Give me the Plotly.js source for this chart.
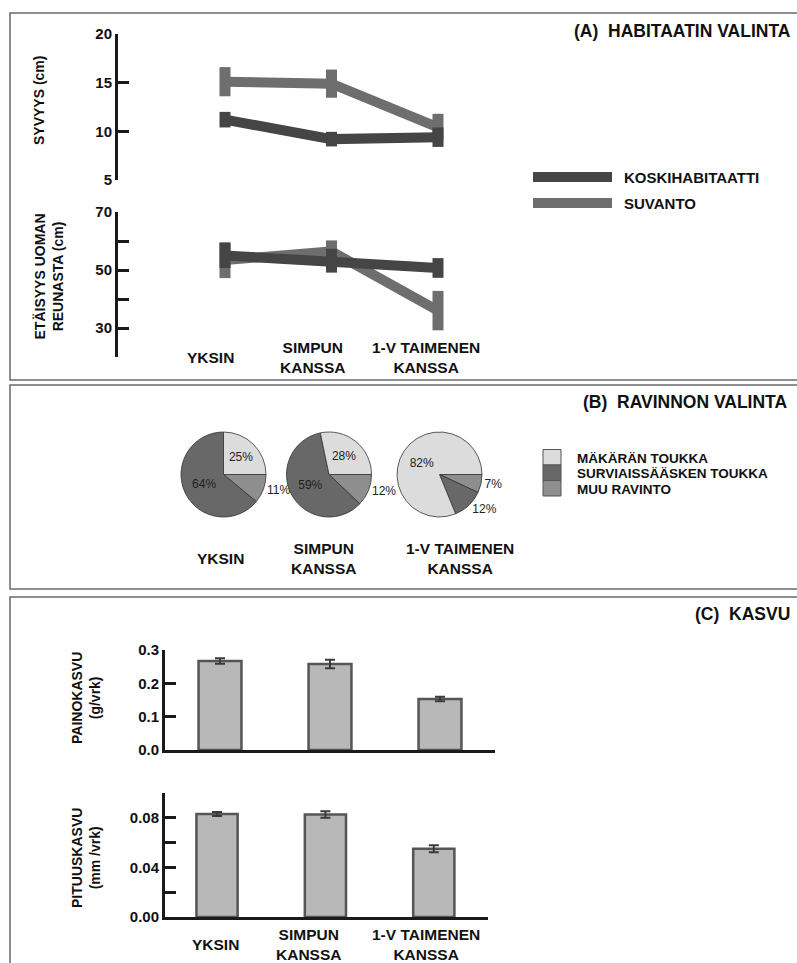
<!DOCTYPE html>
<html>
<head>
<meta charset="utf-8">
<script src="https://cdn.plot.ly/plotly-3.0.1.min.js"></script>
<style>html,body{margin:0;padding:0;background:#fff;}#chart{width:797px;height:963px;}</style>
</head>
<body>
<div id="chart"></div>
<script>
// ---------- data ----------
const categories = ['YKSIN', 'SIMPUN KANSSA', '1-V TAIMENEN KANSSA'];
const categoryLabels = ['YKSIN', 'SIMPUN<br>KANSSA', '1-V TAIMENEN<br>KANSSA'];
const habitatSeries = ['KOSKIHABITAATTI', 'SUVANTO'];

const depthKoski = [11.2, 9.2, 9.4];
const depthKoskiErr = [0.8, 0.75, 1.0];
const depthSuvanto = [15.1, 14.9, 10.4];
const depthSuvantoErr = [1.5, 1.45, 1.4];

const distKoski = [55.0, 53.2, 50.7];
const distKoskiErr = [4.3, 4.1, 3.4];
const distSuvanto = [53.4, 56.4, 36.0];
const distSuvantoErr = [6.2, 3.8, 6.8];

const foodTypes = ['MÄKÄRÄN TOUKKA', 'SURVIAISSÄÄSKEN TOUKKA', 'MUU RAVINTO'];
const dietYksin = [25, 64, 11];
const dietSimpun = [28, 59, 12];
const dietTaimen = [82, 12, 7];

const weightGrowth = [0.267, 0.258, 0.153];
const weightErr = [0.008, 0.013, 0.007];
const lengthGrowth = [0.0830, 0.0826, 0.0550];
const lengthErr = [0.0016, 0.0026, 0.0028];

const depthTicks = [5, 10, 15, 20];
const distTicks = [20, 30, 40, 50, 60, 70];
const distTickText = ['', '30', '', '50', '', '70'];
const weightTicks = [0, 0.1, 0.2, 0.3];
const weightTickText = ['0.0', '0.1', '0.2', '0.3'];
const lengthTicks = [0, 0.02, 0.04, 0.06, 0.08, 0.10];
const lengthTickText = ['0.00', '', '0.04', '', '0.08', ''];

const panelTitles = ['(A)\u00a0 HABITAATIN VALINTA', '(B)\u00a0 RAVINNON VALINTA', '(C)\u00a0 KASVU'];
const axisTitles = ['SYVYYS (cm)', 'ETÄISYYS UOMAN<br>REUNASTA (cm)', 'PAINOKASVU<br>(g/vrk)', 'PITUUSKASVU<br>(mm /vrk)'];

// ---------- styles ----------
const W = 797, H = 963;
const px = p => p / W;
const py = p => 1 - p / H;
const FONT = 'Liberation Sans, Arial, Helvetica, sans-serif';
const DARK = '#454545', LIGHT = '#6e6e6e';
const AX = '#1a1a1a';
const pieColors = ['#dcdcdc', '#686868', '#8e8e8e'];

function lineTrace(y, err, color, xa, ya, name) {
  return {
    type: 'scatter', mode: 'lines', x: categories, y: y, name: name,
    xaxis: xa, yaxis: ya,
    line: {color: color, width: 10},
    error_y: {type: 'data', array: err, visible: true, color: color, thickness: 11, width: 0},
    hoverinfo: 'skip'
  };
}

const traces = [
  lineTrace(depthSuvanto, depthSuvantoErr, LIGHT, 'x', 'y', habitatSeries[1]),
  lineTrace(depthKoski, depthKoskiErr, DARK, 'x', 'y', habitatSeries[0]),
  lineTrace(distSuvanto, distSuvantoErr, LIGHT, 'x2', 'y2', habitatSeries[1]),
  lineTrace(distKoski, distKoskiErr, DARK, 'x2', 'y2', habitatSeries[0])
];

// pies: drawn clockwise from 3 o'clock in the order MUU, SURVIAIS, MÄKÄRÄN
const pieCenters = [223.5, 329, 439.5];
const pieCy = 474.5, pieR = 42.5;
const diets = [dietYksin, dietSimpun, dietTaimen];
const piePos = [['auto', 'inside', 'inside'], ['auto', 'inside', 'inside'], ['outside', 'outside', 'inside']];
const pct = {family: FONT, size: 12, color: '#222'};
diets.forEach((d, i) => {
  traces.push({
    type: 'pie', labels: foodTypes.slice().reverse(), values: d.slice().reverse(), sort: false,
    direction: 'clockwise', rotation: 90,
    domain: {x: [px(pieCenters[i] - pieR), px(pieCenters[i] + pieR)], y: [py(pieCy + pieR), py(pieCy - pieR)]},
    marker: {colors: pieColors.slice().reverse(), line: {color: '#333', width: 0.8}},
    texttemplate: '%{value}%', textposition: piePos[i],
    insidetextorientation: 'horizontal',
    textfont: pct, insidetextfont: pct, outsidetextfont: pct,
    showlegend: false, hoverinfo: 'skip'
  });
});

function barTrace(y, err, xa, ya, w) {
  return {
    type: 'bar', x: categories, y: y, xaxis: xa, yaxis: ya, width: w,
    marker: {color: '#b8b8b8', line: {color: '#555', width: 2.5}},
    error_y: {type: 'data', array: err, visible: true, color: '#3a3a3a', thickness: 2, width: 5},
    hoverinfo: 'skip'
  };
}
traces.push(barTrace(weightGrowth, weightErr, 'x3', 'y3', 0.39));
traces.push(barTrace(lengthGrowth, lengthErr, 'x4', 'y4', 0.38));

const tickFont = {family: FONT, size: 15, color: '#111', weight: 'bold'};
function yAxis(domTop, domBot, range, tickvals, ticktext, anchor) {
  return {
    domain: [py(domBot), py(domTop)], range: range, anchor: anchor,
    tickvals: tickvals, ticktext: ticktext,
    ticks: 'inside', ticklen: 11, tickwidth: 3, tickcolor: AX,
    showline: true, linewidth: 3, linecolor: AX,
    showgrid: false, zeroline: false, tickfont: tickFont, fixedrange: true
  };
}
function hiddenX(l, r, range, anchor) {
  return {
    domain: [px(l), px(r)], range: range, anchor: anchor, type: 'category',
    showline: false, showticklabels: false, ticks: '', showgrid: false, zeroline: false
  };
}
// panel A x: index 0 at 225px, spacing 106.5px
const aL = 118, aR = 530, aC0 = 225, aSp = 106.5;
const aRange = [(aL - aC0) / aSp, (aR - aC0) / aSp];

const layout = {
  width: W, height: H, margin: {l: 0, r: 0, t: 0, b: 0},
  paper_bgcolor: '#fff', plot_bgcolor: 'rgba(0,0,0,0)', showlegend: false,
  font: {family: FONT, color: '#111'},
  xaxis: hiddenX(aL, aR, aRange, 'y'),
  yaxis: yAxis(34, 180, [5, 20], depthTicks, depthTicks.map(String), 'x'),
  xaxis2: hiddenX(aL, aR, aRange, 'y2'),
  yaxis2: yAxis(212, 357, [20, 70], distTicks, distTickText, 'x2'),
  xaxis3: Object.assign(hiddenX(165, 495, [-0.5, 2.5], 'y3'), {showline: true, linewidth: 3, linecolor: AX}),
  yaxis3: yAxis(650, 750, [0, 0.3], weightTicks, weightTickText, 'x3'),
  xaxis4: Object.assign(hiddenX(165, 488, [-0.48, 2.5], 'y4'), {showline: true, linewidth: 3, linecolor: AX}),
  yaxis4: yAxis(793, 917, [0, 0.1], lengthTicks, lengthTickText, 'x4'),
  shapes: [],
  annotations: []
};

// panel frames
const frameLine = {color: '#6a6a6a', width: 1.5};
[[10, 13, 380], [10, 385, 589], [10, 597, 980]].forEach(f => {
  layout.shapes.push({type: 'rect', xref: 'paper', yref: 'paper', x0: px(f[0]), x1: px(812), y0: py(f[1]), y1: py(f[2]), line: frameLine, fillcolor: 'rgba(0,0,0,0)'});
});

// panel titles
[[31, 793], [402, 790], [614, 792]].forEach((p, i) => {
  layout.annotations.push({xref: 'paper', yref: 'paper', x: px(p[1]), y: py(p[0]), xanchor: 'right', yanchor: 'middle',
    text: panelTitles[i], showarrow: false, font: {family: FONT, size: 17.5, color: '#111', weight: 'bold'}});
});

// axis titles (rotated)
[[39, 101], [48.5, 277], [86, 698], [86, 858]].forEach((p, i) => {
  layout.annotations.push({xref: 'paper', yref: 'paper', x: px(p[0]), y: py(p[1]), xanchor: 'center', yanchor: 'middle',
    text: axisTitles[i], textangle: -90, showarrow: false, font: {family: FONT, size: 14, color: '#111', weight: 'bold'}});
});

// category labels
const catFont = {family: FONT, size: 15.5, color: '#111', weight: 'bold'};
const aShift = [-15, -19, -12];
categories.forEach((c, i) => {
  layout.annotations.push({xref: 'x2', yref: 'paper', x: c, y: py(357.5), xshift: aShift[i], xanchor: 'center', yanchor: 'middle',
    text: categoryLabels[i], showarrow: false, font: catFont});
});
const bLabelX = [220, 323, 460];
categories.forEach((c, i) => {
  layout.annotations.push({xref: 'paper', yref: 'paper', x: px(bLabelX[i]), y: py(558), xanchor: 'center', yanchor: 'middle',
    text: categoryLabels[i], showarrow: false, font: catFont});
});
const cShift = [-2, -17, -8];
categories.forEach((c, i) => {
  layout.annotations.push({xref: 'x4', yref: 'paper', x: c, y: py(944), xshift: cShift[i], xanchor: 'center', yanchor: 'middle',
    text: categoryLabels[i], showarrow: false, font: catFont});
});

// legend A (line swatches)
[[177, DARK, 0], [203, LIGHT, 1]].forEach(l => {
  layout.shapes.push({type: 'line', xref: 'paper', yref: 'paper', x0: px(533), x1: px(612), y0: py(l[0]), y1: py(l[0]), line: {color: l[1], width: 10}});
  layout.annotations.push({xref: 'paper', yref: 'paper', x: px(622), y: py(l[0]), xanchor: 'left', yanchor: 'middle',
    text: habitatSeries[l[2]], showarrow: false, font: {family: FONT, size: 15, color: '#111', weight: 'bold'}});
});
// legend B (pie swatches)
const swH = 15.5, swTop = 449.5;
foodTypes.forEach((f, i) => {
  const t = swTop + i * swH;
  layout.shapes.push({type: 'rect', xref: 'paper', yref: 'paper', x0: px(543), x1: px(561), y0: py(t + swH), y1: py(t),
    fillcolor: pieColors[i], line: {color: '#555', width: 1}});
  layout.annotations.push({xref: 'paper', yref: 'paper', x: px(576), y: py(t + swH / 2 + 1), xanchor: 'left', yanchor: 'middle',
    text: f, showarrow: false, borderpad: 0, font: {family: FONT, size: 13.5, color: '#111', weight: 'bold'}});
});

Plotly.newPlot('chart', traces, layout, {staticPlot: true, displayModeBar: false});
</script>
</body>
</html>
